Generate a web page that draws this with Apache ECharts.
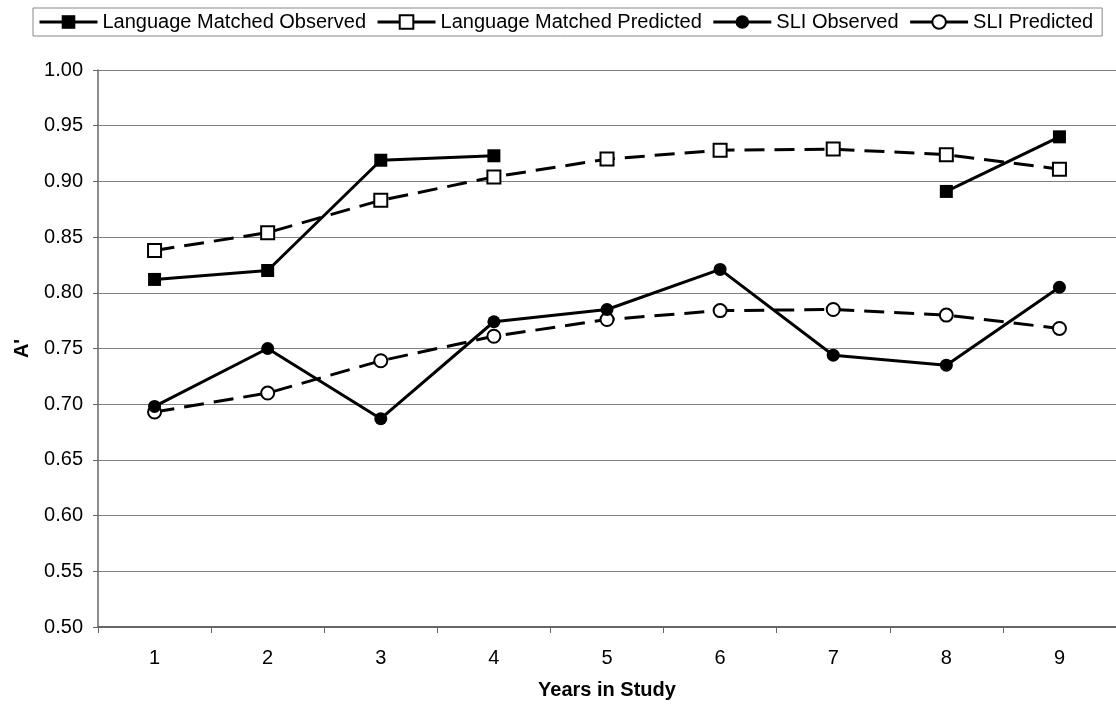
<!DOCTYPE html>
<html><head><meta charset="utf-8">
<script src="https://cdn.jsdelivr.net/npm/echarts@6/dist/echarts.min.js"></script>
<style>html,body{margin:0;padding:0;background:#fff}#c{width:1116px;height:705px}</style>
</head><body><div id="c"></div>
<script>
const categories = ['1','2','3','4','5','6','7','8','9'];
const lmObserved  = [0.812, 0.820, 0.919, 0.923, null, null, null, 0.891, 0.940];
const lmPredicted = [0.838, 0.854, 0.883, 0.904, 0.920, 0.928, 0.929, 0.924, 0.911];
const sliObserved = [0.698, 0.750, 0.687, 0.774, 0.785, 0.821, 0.744, 0.735, 0.805];
const sliPredicted= [0.693, 0.710, 0.739, 0.761, 0.776, 0.784, 0.785, 0.780, 0.768];
const seriesNames = ['Language Matched Observed','Language Matched Predicted','SLI Observed','SLI Predicted'];

const FONT = '"Liberation Sans", Arial, sans-serif';
const chart = echarts.init(document.getElementById('c'), null, {renderer:'canvas'});

function mk(name, data, symbol, hollow, dashed) {
  return {
    name, type:'line', data, symbol, symbolSize: 13, connectNulls:false,
    lineStyle:{color:'#000', width:3, type: dashed ? [20,10] : 'solid'},
    itemStyle:{color: hollow ? '#fff' : '#000', borderColor:'#000', borderWidth: hollow ? 2 : 0},
    emphasis:{disabled:true}, animation:false, z: dashed ? 2 : 3
  };
}

chart.setOption({
  animation:false,
  backgroundColor:'#fff',
  textStyle:{fontFamily:FONT},
  legend:{
    left:33, top:8, padding:[4,9,4,5], itemWidth:58, itemHeight:17, itemGap:10,
    borderColor:'#888', borderWidth:1,
    textStyle:{fontSize:20, color:'#000', fontFamily:FONT},
    lineStyle:{type:[1000,1], width:3, color:'#000'},
    data: seriesNames.map(n => ({name:n, lineStyle:{type:[1000,1], width:3, color:'#000'}})),
    selectedMode:false
  },
  grid:{left:98, right:-13, top:70, bottom:78, containLabel:false},
  xAxis:{
    type:'category', data:categories, boundaryGap:true,
    name:'Years in Study', nameLocation:'middle', nameGap:53,
    nameTextStyle:{fontSize:20, fontWeight:'bold', color:'#000', fontFamily:FONT},
    axisLine:{lineStyle:{color:'#666', width:2}},
    axisTick:{show:true, length:6, lineStyle:{color:'#666'}},
    axisLabel:{fontSize:20, color:'#000', margin:21, fontFamily:FONT}
  },
  yAxis:{
    type:'value', min:0.5, max:1.0, interval:0.05,
    name:"A'", nameLocation:'middle', nameGap:66, nameRotate:90,
    nameTextStyle:{fontSize:20, fontWeight:'bold', color:'#000', fontFamily:FONT},
    axisLine:{show:true, lineStyle:{color:'#666', width:1.5}},
    axisTick:{show:true, length:5, lineStyle:{color:'#666'}},
    axisLabel:{fontSize:20, color:'#000', margin:15, fontFamily:FONT, formatter: v => v.toFixed(2)},
    splitLine:{show:true, lineStyle:{color:'#808080', width:1}}
  },
  series:[
    mk(seriesNames[0], lmObserved, 'rect', false, false),
    mk(seriesNames[1], lmPredicted, 'rect', true, true),
    mk(seriesNames[2], sliObserved, 'circle', false, false),
    mk(seriesNames[3], sliPredicted, 'circle', true, true)
  ]
});
</script></body></html>
